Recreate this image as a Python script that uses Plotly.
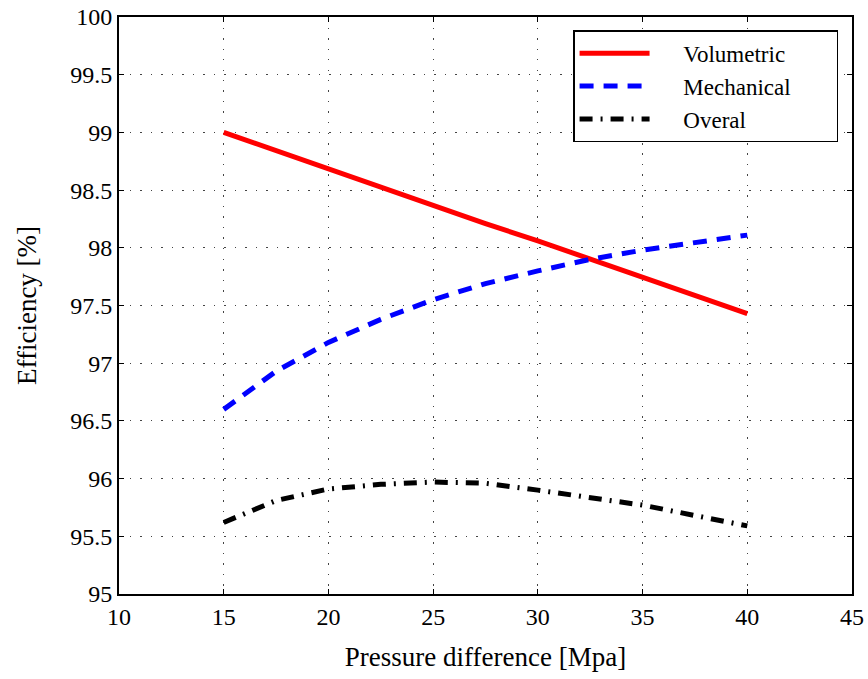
import plotly.graph_objects as go

pressure = [15, 17.5, 20, 22.5, 25, 27.5, 30, 32.5, 35, 37.5, 40]
volumetric = [99.0, 98.84, 98.69, 98.53, 98.37, 98.21, 98.06, 97.90, 97.74, 97.59, 97.43]
mechanical = [96.60, 96.93, 97.18, 97.38, 97.55, 97.69, 97.80, 97.90, 97.98, 98.05, 98.11]
overall = [95.62, 95.81, 95.91, 95.95, 95.97, 95.96, 95.90, 95.84, 95.77, 95.68, 95.59]

x_ticks = [10, 15, 20, 25, 30, 35, 40, 45]
y_ticks = [95, 95.5, 96, 96.5, 97, 97.5, 98, 98.5, 99, 99.5, 100]

font = "Liberation Serif, Times New Roman, serif"
pad = "\u00a0" * 5
tail = "\u00a0" * 7

fig = go.Figure()
fig.add_trace(go.Scatter(x=pressure, y=volumetric, mode="lines", name=pad + "Volumetric" + tail,
                         line=dict(color="#ff0000", width=5)))
fig.add_trace(go.Scatter(x=pressure, y=mechanical, mode="lines", name=pad + "Mechanical" + tail,
                         line=dict(color="#0000ff", width=5, dash="14px,10px")))
fig.add_trace(go.Scatter(x=pressure, y=overall, mode="lines", name=pad + "Overal" + tail,
                         line=dict(color="#000000", width=5, dash="13px,8px,2px,8px")))

axis_common = dict(showline=True, linecolor="black", linewidth=2, mirror="ticks",
                   ticks="inside", ticklen=5, tickcolor="black", tickwidth=1,
                   showgrid=True, gridcolor="#444444", griddash="1.5px,9px", gridwidth=1,
                   zeroline=False, automargin=False,
                   tickfont=dict(family=font, size=24, color="black"))

fig.update_xaxes(range=[10, 45], tickvals=x_ticks, ticktext=[str(v) for v in x_ticks],
                 title=dict(text="Pressure difference [Mpa]", font=dict(family=font, size=27, color="black"),
                            standoff=18),
                 **axis_common)
fig.update_yaxes(range=[95, 100], tickvals=y_ticks, ticktext=[f"{v:g}" for v in y_ticks],
                 title=dict(text="Efficiency [%]", font=dict(family=font, size=27, color="black"),
                            standoff=26),
                 **axis_common)

fig.update_layout(
    width=868, height=679,
    margin=dict(l=119, r=16, t=17, b=85, autoexpand=False),
    plot_bgcolor="white", paper_bgcolor="white",
    font=dict(family=font, color="black"),
    legend=dict(x=0.981, y=0.977, xanchor="right", yanchor="top",
                bgcolor="white", bordercolor="black", borderwidth=1.5,
                font=dict(family=font, size=23, color="black"),
                itemwidth=70, tracegroupgap=0),
    showlegend=True,
)

fig.write_html("out.html", config={"displayModeBar": False},
               post_script="document.body.style.margin='0';")
